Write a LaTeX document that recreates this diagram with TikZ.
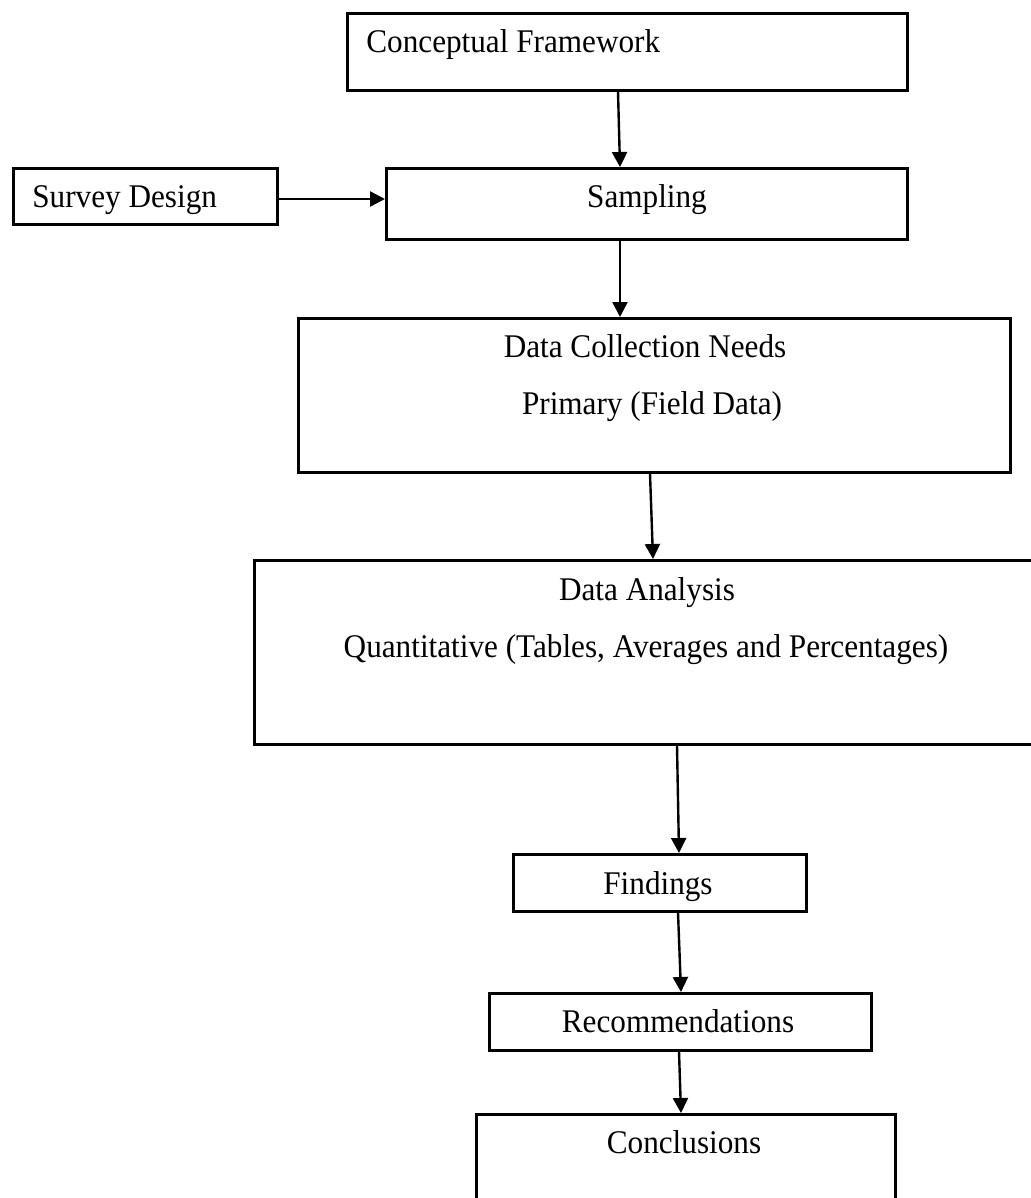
\documentclass[tikz,border=0pt]{standalone}
\usepackage{fontspec}
\usepackage{graphicx}
\setmainfont{Liberation Serif}
\usetikzlibrary{arrows.meta,calc}
\newcommand\tallertxt[1]{\scalebox{1}[1.06]{#1}}
\begin{document}
\begin{tikzpicture}[x=0.5pt,y=-0.5pt,
  box/.style={draw=black,line width=1.3pt,inner sep=0pt,anchor=north west,fill=none},
  lbl/.style={inner sep=0pt,font=\fontsize{15.6pt}{18pt}\selectfont},
  conn/.style={line width=1.2pt,-{Triangle[length=7.5pt,width=7.5pt]}}]
\useasboundingbox (0,0) rectangle (1031,1198);
\clip (0,0) rectangle (1031,1198);
% boxes
\node[box,minimum width=280pt,minimum height=38.5pt] (cf) at (346,12) {};
\node[box,minimum width=132pt,minimum height=28pt] (sd) at (12,167) {};
\node[box,minimum width=260.5pt,minimum height=35.5pt] (samp) at (385,167) {};
\node[box,minimum width=356pt,minimum height=77pt] (dcn) at (297,317) {};
\node[box,minimum width=400pt,minimum height=92pt] (da) at (253,559) {};
\node[box,minimum width=146.5pt,minimum height=28.5pt] (find) at (512,853) {};
\node[box,minimum width=191pt,minimum height=28.5pt] (recs) at (488,992) {};
\node[box,minimum width=209.5pt,minimum height=75pt] (concl) at (475,1113) {};
% texts
\node[lbl,anchor=base west] (tcf) at (366,53) {\tallertxt{Conceptual Framework}};
\node[lbl,anchor=base west] (tsd) at (32,208) {\tallertxt{Survey Design}};
\node[lbl,anchor=base] (tsamp) at (647,208) {\tallertxt{Sampling}};
\node[lbl,anchor=base] (tdcn1) at (645,357) {\tallertxt{Data Collection Needs}};
\node[lbl,anchor=base] (tdcn2) at (652,414) {\tallertxt{Primary (Field Data)}};
\node[lbl,anchor=base] (tda1) at (647,600) {\tallertxt{Data Analysis}};
\node[lbl,anchor=base] (tda2) at (646,657) {\tallertxt{Quantitative (Tables, Averages and Percentages)}};
\node[lbl,anchor=base] (tfind) at (658,894) {\tallertxt{Findings}};
\node[lbl,anchor=base] (trecs) at (678,1032) {\tallertxt{Recommendations}};
\node[lbl,anchor=base] (tconcl) at (684,1153) {\tallertxt{Conclusions}};
% connectors
\draw[conn] ($(cf.south west)+(272,0)$) -- ($(samp.north west)+(235,0)$);
\draw[conn] ($(sd.north east)+(0,32)$) -- ($(samp.north west)+(0,32)$);
\draw[conn] ($(samp.south west)+(235,0)$) -- ($(dcn.north west)+(323,0)$);
\draw[conn] ($(dcn.south west)+(353,0)$) -- ($(da.north west)+(400,0)$);
\draw[conn] ($(da.south west)+(424,0)$) -- ($(find.north west)+(167,0)$);
\draw[conn] ($(find.south west)+(166,0)$) -- ($(recs.north west)+(193,0)$);
\draw[conn] ($(recs.south west)+(191,0)$) -- ($(concl.north west)+(206,0)$);
\end{tikzpicture}
\end{document}
